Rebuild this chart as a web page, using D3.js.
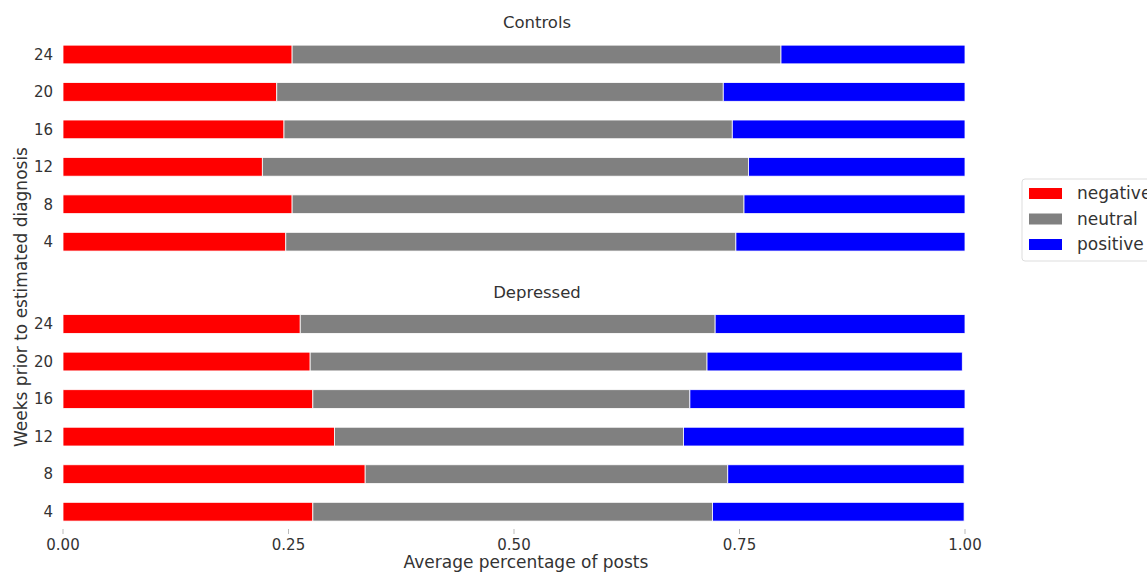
<!DOCTYPE html>
<html>
<head>
<meta charset="utf-8">
<script src="https://cdn.jsdelivr.net/npm/d3@7"></script>
<style>
  body { margin: 0; background: #fff; }
  text { font-family: "DejaVu Sans", sans-serif; fill: #333; }
</style>
</head>
<body>
<script>
//Chart size
const width = 1147;
const height = 574;

//Data
const weeks = [24, 20, 16, 12, 8, 4];
const sentiments = ["negative", "neutral", "positive"];
const colors = ["#ff0000", "#808080", "#0000ff"];

const controlsNegative = [0.254, 0.237, 0.245, 0.221, 0.254, 0.247];
const controlsNeutral  = [0.542, 0.495, 0.497, 0.539, 0.501, 0.499];
const controlsPositive = [0.204, 0.268, 0.258, 0.240, 0.245, 0.254];

const depressedNegative = [0.263, 0.274, 0.277, 0.301, 0.335, 0.277];
const depressedNeutral  = [0.460, 0.440, 0.418, 0.387, 0.402, 0.443];
const depressedPositive = [0.277, 0.283, 0.305, 0.311, 0.262, 0.279];

const xTicks = [0, 0.25, 0.5, 0.75, 1];

//Build rows for d3.stack
function rows(neg, neu, pos) {
    return weeks.map((w, i) => ({ week: w, negative: neg[i], neutral: neu[i], positive: pos[i] }));
}

const panels = [
    { title: "Controls", data: rows(controlsNegative, controlsNeutral, controlsPositive), top: 54.5, bottom: 241.7, titleY: 28 },
    { title: "Depressed", data: rows(depressedNegative, depressedNeutral, depressedPositive), top: 324, bottom: 511.7, titleY: 298 }
];

//SVG element
const svg = d3.select("body")
    .append("svg")
    .attr("width", width)
    .attr("height", height);

//x scale shared by both panels
const x = d3.scaleLinear()
    .domain([0, 1])
    .range([63, 965]);

const stack = d3.stack().keys(sentiments);
const color = d3.scaleOrdinal().domain(sentiments).range(colors);

panels.forEach(p => {
    const y = d3.scalePoint()
        .domain(weeks)
        .range([p.top, p.bottom]);
    const barH = y.step() * 0.5;

    const g = svg.append("g");

    g.selectAll("g.layer")
        .data(stack(p.data))
        .enter()
        .append("g")
        .attr("class", "layer")
        .attr("fill", d => color(d.key))
        .selectAll("rect")
        .data(d => d)
        .enter()
        .append("rect")
        .attr("x", d => x(d[0]))
        .attr("width", d => x(d[1]) - x(d[0]))
        .attr("y", d => y(d.data.week) - barH / 2)
        .attr("height", barH)
        .attr("stroke", "#fff")
        .attr("stroke-width", 0.8);

    //week labels
    g.selectAll("text.week")
        .data(weeks)
        .enter()
        .append("text")
        .attr("class", "week")
        .attr("x", 53)
        .attr("y", d => y(d))
        .attr("dy", "0.35em")
        .attr("text-anchor", "end")
        .style("font-size", "15px")
        .text(d => d);

    //panel title
    g.append("text")
        .attr("x", 537)
        .attr("y", p.titleY)
        .attr("text-anchor", "middle")
        .style("font-size", "16.5px")
        .text(p.title);
});

//x axis: small ticks and labels
const xAxis = svg.append("g");
xAxis.selectAll("line")
    .data(xTicks)
    .enter()
    .append("line")
    .attr("x1", d => x(d))
    .attr("x2", d => x(d))
    .attr("y1", 529)
    .attr("y2", 534)
    .attr("stroke", "#bbb")
    .attr("stroke-width", 1);
xAxis.selectAll("text")
    .data(xTicks)
    .enter()
    .append("text")
    .attr("x", d => x(d))
    .attr("y", 550)
    .attr("text-anchor", "middle")
    .style("font-size", "15px")
    .text(d => d3.format(".2f")(d));

//Axis titles
svg.append("text")
    .attr("x", 526)
    .attr("y", 568)
    .attr("text-anchor", "middle")
    .style("font-size", "17px")
    .text("Average percentage of posts");

svg.append("text")
    .attr("transform", "translate(27,297) rotate(-90)")
    .attr("text-anchor", "middle")
    .style("font-size", "17px")
    .text("Weeks prior to estimated diagnosis");

//Legend
const legend = svg.append("g").attr("transform", "translate(1022,179)");
legend.append("rect")
    .attr("width", 140)
    .attr("height", 82)
    .attr("rx", 3)
    .attr("fill", "#fff")
    .attr("stroke", "#ddd");
const item = legend.selectAll("g.item")
    .data(sentiments)
    .enter()
    .append("g")
    .attr("class", "item")
    .attr("transform", (d, i) => `translate(7,${9 + i * 25.5})`);
item.append("rect")
    .attr("width", 33)
    .attr("height", 11)
    .attr("fill", d => color(d));
item.append("text")
    .attr("x", 48)
    .attr("y", 5.5)
    .attr("dy", "0.35em")
    .style("font-size", "17px")
    .text(d => d);
</script>
</body>
</html>
